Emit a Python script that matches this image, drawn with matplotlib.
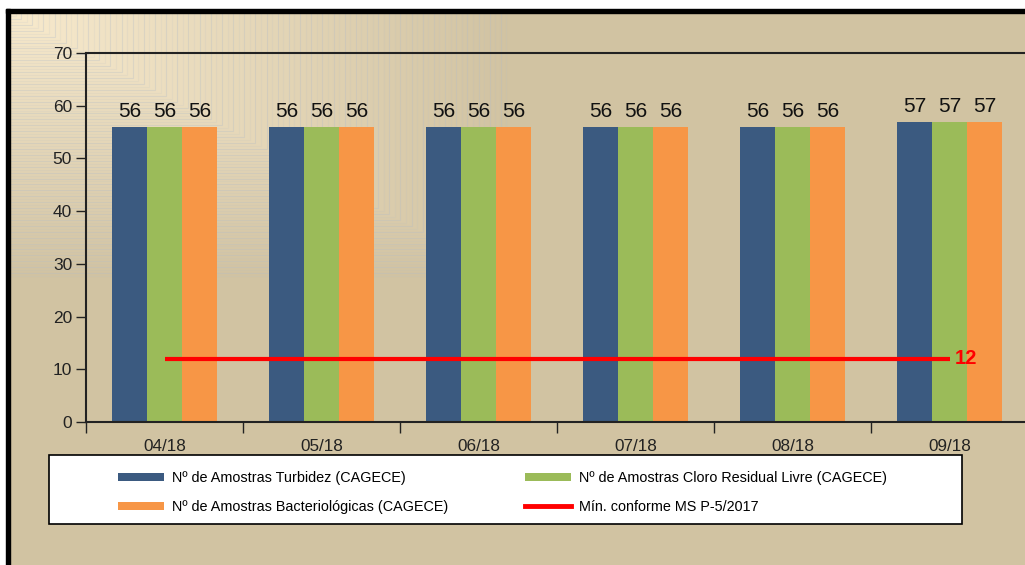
import numpy as np
import matplotlib
matplotlib.use("Agg")
import matplotlib.pyplot as plt
from matplotlib.patches import Rectangle, Patch
from matplotlib.lines import Line2D

plt.rcParams['font.family'] = ['Liberation Sans', 'DejaVu Sans']

# ---- data ----
categories = ["04/18", "05/18", "06/18", "07/18", "08/18", "09/18"]
turbidez = [56, 56, 56, 56, 56, 57]
cloro = [56, 56, 56, 56, 56, 57]
bacterio = [56, 56, 56, 56, 56, 57]
minimo = [12, 12, 12, 12, 12, 12]
series_labels = ["Nº de Amostras Turbidez (CAGECE)",
                 "Nº de Amostras Cloro Residual Livre (CAGECE)",
                 "Nº de Amostras Bacteriológicas (CAGECE)",
                 "Mín. conforme MS P-5/2017"]

C_BLUE = "#3B5A80"
C_GREEN = "#9BBB59"
C_ORANGE = "#F79646"
C_RED = "#FF0000"
C_TAN = np.array([0xD1, 0xC3, 0xA2]) / 255
C_CREAM = np.array([0xF8, 0xEA, 0xCD]) / 255

W, H = 1025, 565
fig = plt.figure(figsize=(W / 100, H / 100), dpi=100)
fig.patch.set_facecolor("white")

# ---- background with gradient ----
bg = fig.add_axes([0, 0, 1, 1], zorder=-10)
bg.set_xlim(0, W)
bg.set_ylim(H, 0)
bg.axis("off")
x0, y0 = 10, 13
GW, GH = 502, 266
xs = np.arange(W) + 0.5
ys = np.arange(H) + 0.5
XX, YY = np.meshgrid(xs, ys)
t = np.clip(np.maximum((XX - x0) / GW, (YY - y0) / GH), 0, 1)
img = C_CREAM[None, None, :] * (1 - t[..., None]) + C_TAN[None, None, :] * t[..., None]
bg.imshow(img, extent=(0, W, H, 0), aspect="auto", interpolation="bilinear")
n_lines = 90
for k in range(1, n_lines):
    tt = k / n_lines
    cx, cy = x0 + tt * GW, y0 + tt * GH
    a = 0.32 if k % 2 == 0 else 0.14
    bg.plot([x0, cx, cx], [cy, cy, y0], color="#B4BCC6", lw=0.8, alpha=a)
# white margins and black border
bg.add_patch(Rectangle((0, 0), W, 9, color="white", zorder=5))
bg.add_patch(Rectangle((0, 0), 6, H, color="white", zorder=5))
bg.add_patch(Rectangle((6, 9), W, 4, color="black", zorder=6))
bg.add_patch(Rectangle((6, 9), 4, H, color="black", zorder=6))

# ---- main axes ----
ax_left, ax_right, ax_top, ax_bottom = 86, 1028, 53, 422
ax = fig.add_axes([ax_left / W, 1 - ax_bottom / H, (ax_right - ax_left) / W,
                   (ax_bottom - ax_top) / H])
ax.set_facecolor("none")
x = np.arange(len(categories))
bw = 35 / 157
b1 = ax.bar(x - bw, turbidez, bw, color=C_BLUE, zorder=2)
b2 = ax.bar(x, cloro, bw, color=C_GREEN, zorder=2)
b3 = ax.bar(x + bw, bacterio, bw, color=C_ORANGE, zorder=2)
for bars in (b1, b2, b3):
    for r in bars:
        ax.annotate(f"{r.get_height():g}", (r.get_x() + r.get_width() / 2, r.get_height()),
                    xytext=(0, 4), textcoords="offset points", ha="center", va="bottom",
                    fontsize=15, color="#111111")
ln, = ax.plot(x, minimo, color=C_RED, lw=3, zorder=3, solid_capstyle="butt")
ax.annotate(f"{minimo[-1]}", (x[-1], minimo[-1]), xytext=(4, 0), textcoords="offset points",
            ha="left", va="center", fontsize=14.5, fontweight="bold", color=C_RED)

ax.set_xlim(-0.5, len(categories) - 0.5)
ax.set_ylim(0, 70)
ax.set_yticks(np.arange(0, 71, 10))
ax.set_xticks(np.arange(-0.5, len(categories) + 0.5, 1))
ax.set_xticklabels([])
ax.set_xticks(x, minor=True)
ax.set_xticklabels(categories, minor=True)
ax.tick_params(axis="x", which="major", direction="out", length=8, width=1, color="#222222")
ax.tick_params(axis="x", which="minor", length=0, pad=12, labelsize=12.3, labelcolor="#222222")
ax.tick_params(axis="y", direction="out", length=7, width=1, color="#222222",
               labelsize=12.5, labelcolor="#222222", pad=3)
for s in ("left", "bottom", "top"):
    ax.spines[s].set_color("#222222")
    ax.spines[s].set_linewidth(1.5)
ax.spines["right"].set_visible(False)

# ---- legend ----
fig.add_artist(Rectangle((49 / W, 1 - 524 / H), 913 / W, 69 / H, transform=fig.transFigure,
                         facecolor="white", edgecolor="black", lw=1.2, zorder=4))
lkw = dict(frameon=False, fontsize=10.4, handlelength=3.2, handleheight=0.55,
           handletextpad=0.55, labelspacing=1.05, borderpad=0, borderaxespad=0, loc="upper left")
h_blue = Patch(facecolor=C_BLUE)
h_green = Patch(facecolor=C_GREEN)
h_orange = Patch(facecolor=C_ORANGE)
h_red = Line2D([0], [0], color=C_RED, lw=3.5)
leg1 = fig.legend([h_blue, h_orange], [series_labels[0], series_labels[2]],
                  bbox_to_anchor=(118 / W, 1 - 471 / H), **lkw)
leg2 = fig.legend([h_green, h_red], [series_labels[1], series_labels[3]],
                  bbox_to_anchor=(525 / W, 1 - 471 / H), **lkw)
for lg in (leg1, leg2):
    lg.set_zorder(5)

fig.savefig("out.png", dpi=100, facecolor=fig.get_facecolor())
